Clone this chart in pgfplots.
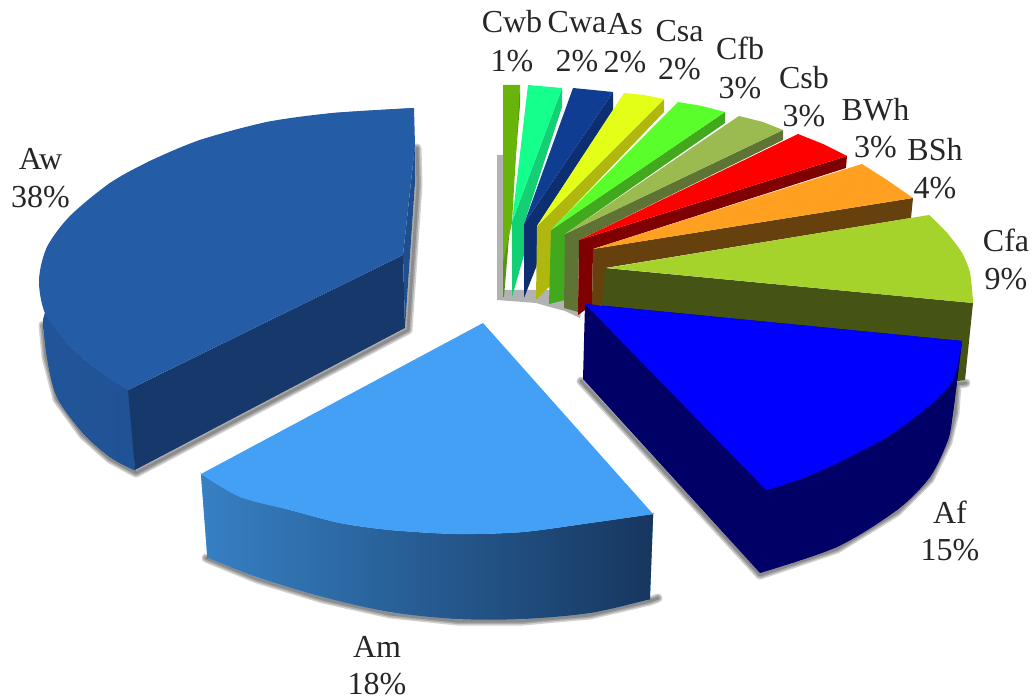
\documentclass[border=0pt]{standalone}
\usepackage{fontspec}
\setmainfont{Liberation Serif}
\usepackage{pgfplots}
\usepackage{pgfplotstable}
\pgfplotsset{compat=1.18}
\definecolor{awtop}{HTML}{245CA6}
\definecolor{awfront}{HTML}{17386B}
\definecolor{amtop}{HTML}{44A0F5}
\definecolor{aftop}{HTML}{0000FF}
\definecolor{afside}{HTML}{000066}
\definecolor{cfatop}{HTML}{A6D32B}
\definecolor{cfaside}{HTML}{455314}
\definecolor{bshtop}{HTML}{FFA020}
\definecolor{bshside}{HTML}{66400D}
\definecolor{bwhtop}{HTML}{FF0000}
\definecolor{bwhside}{HTML}{7F0000}
\definecolor{csbtop}{HTML}{9BBB50}
\definecolor{csbside}{HTML}{5F7434}
\definecolor{cfbtop}{HTML}{5AFF2B}
\definecolor{cfbside}{HTML}{42A81E}
\definecolor{csatop}{HTML}{E3FF18}
\definecolor{csaside}{HTML}{B0B80F}
\definecolor{astop}{HTML}{0F3D92}
\definecolor{asside}{HTML}{0D2F72}
\definecolor{cwatop}{HTML}{14FF8C}
\definecolor{cwaside}{HTML}{12D073}
\definecolor{cwbtop}{HTML}{68B40A}
\definecolor{cwbside}{HTML}{57950A}
\pgfplotsset{
    face/.style={draw=none,forget plot,fill=#1},
    round/.style={draw=none,forget plot,fill=#1,smooth},
    blur/.style={draw=black,no marks,forget plot,opacity=0.18,line width=#1,line cap=round,line join=round},
}
% edges that throw a shadow
\pgfplotstableread{
x y
417 148
418 185
408 330
136 473
110 459
83 435
57 399
46 357
43 325
}\shadowaw
\pgfplotstableread{
x y
206 558
257 579
323 599
390 614
457 621
523 621
590 615
650 601
658 598
}\shadowam
\pgfplotstableread{
x y
581 381
760 575
837 549
897 512
930 479
948 442
955 413
957 384
966 383
}\shadowaf
\newcommand{\lab}[5]{%
  \node[anchor=base] at (axis cs:#1,#2) {#4};
  \node[anchor=base] at (axis cs:#1,#3) {#5};
}
\begin{document}
\begin{tikzpicture}
\useasboundingbox (0,0) rectangle (1033pt,700pt);
\begin{axis}[
    scale only axis,
    width=1033pt, height=700pt,
    xmin=0, xmax=1033, ymin=0, ymax=700,
    y dir=reverse,
    hide axis,
    clip=false,
    nodes={font=\fontsize{32}{38}\selectfont, text=black!85},
]
% soft shadows
\addplot[face=black, opacity=0.3] coordinates {(497,155) (503,155) (503,290) (585,290) (580,318) (565,311) (550,307) (536,303) (497,300)};
\pgfplotsinvokeforeach{3pt,6pt,9pt}{
  \addplot[blur=#1] table {\shadowaw};
  \addplot[blur=#1] table {\shadowam};
  \addplot[blur=#1] table {\shadowaf};
}

% Aw
\addplot[round=awfront, left color=awtop!92!black, right color=awtop!72!awfront] coordinates {(43,320) (47,357) (57,397) (83,433) (110,457) (132,469) (135,470) (135,470) (135,470) (134.7,466) (128,390) (97,370) (67,343) (45,313)};
\addplot[face=awfront] coordinates {(128,390) (403,255) (405,328) (135,470)};
\addplot[face=awtop!85!black] coordinates {(415,145) (415,183) (405,328) (403,255)};
\addplot[face=awtop] coordinates {(414,108) (333,113) (267,122) (200,140) (150,161) (110,183) (70,216) (47,247) (39,280) (45,313) (67,343) (97,370) (128,390) (403,255) (415,145)};
\addplot[round=awtop] coordinates {(414,108) (333,113) (267,122) (200,140) (150,161) (110,183) (70,216) (47,247) (39,280) (45,313) (67,343) (97,370) (128,390)};

% Am
\addplot[round=amtop, left color=amtop!80!black, right color=awfront!80!amtop!70!black] coordinates {(205,476) (201,474) (201,474) (201,474) (201.3,478) (207,553) (207,557) (207,557) (207,557) (211,559) (257,577) (323,597) (390,612) (457,619) (523,619) (590,613) (647,600) (650,599) (650,599) (650,599) (650.1,595) (653,518) (653,514) (653,514) (653,514) (649,514.6) (590,523) (523,532) (457,534) (390,530) (340,523) (290,510) (240,497)};
\addplot[face=amtop] coordinates {(483,323) (201,474) (240,497) (290,510) (340,523) (390,530) (457,534) (523,532) (590,523) (653,514)};
\addplot[round=amtop] coordinates {(201,474) (240,497) (290,510) (340,523) (390,530) (457,534) (523,532) (590,523) (653,514)};

% small sectors, back to front
\addplot[face=cwbside] coordinates {(520,85) (520,105) (504,297) (503,297) (503,262)};
\addplot[face=cwbtop] coordinates {(503,85) (520,85) (512,223) (503,262)};
\addplot[face=cwaside] coordinates {(512,222) (562,88) (562,107) (524,224) (524,255) (512,297)};
\addplot[face=cwatop] coordinates {(528,85) (562,88) (512,222)};
\addplot[face=asside] coordinates {(524,224) (613,92) (613,110) (537,226) (537,265) (524,298)};
\addplot[face=astop] coordinates {(573,88) (613,92) (524,224)};
\addplot[face=csaside] coordinates {(537,226) (664,99) (664,112) (551,230) (551,285) (536,300)};
\addplot[face=csatop] coordinates {(624,93) (644,95) (664,99) (537,226)};
\addplot[face=cfbside] coordinates {(551,230) (725,112) (725,123) (565,234) (565,300) (549,304)};
\addplot[face=cfbtop] coordinates {(678,102) (702,106) (725,112) (551,230)};
\addplot[face=csbside] coordinates {(565,234) (783,130) (783,140) (579,240) (578,312) (564,308)};
\addplot[face=csbtop] coordinates {(739,116) (763,122) (783,130) (565,234)};
\addplot[face=bwhside] coordinates {(579,240) (847,156) (846,168) (593,249) (592,305) (578,315)};
\addplot[face=bwhtop] coordinates {(798,134) (823,144) (847,156) (579,240)};
\addplot[face=bshside] coordinates {(593,249) (913,198) (911,218) (605,268) (605,305) (592,305)};
\addplot[face=bshtop] coordinates {(862,164) (887,180) (913,198) (593,249)};
\addplot[face=cfaside] coordinates {(605,268) (973,303) (965,380) (958,381) (600,320)};
\addplot[face=cfatop] coordinates {(607,268) (929,215) (947,233) (962,253) (970,273) (973,303)};
\addplot[round=cfatop] coordinates {(929,215) (947,233) (962,253) (970,273) (973,303)};

% Af
\addplot[face=afside] coordinates {(585,304) (962,341) (953,413) (948,440) (930,477) (897,510) (837,547) (760,573) (583,379)};
\addplot[round=afside] coordinates {(962,341) (953,413) (948,440) (930,477) (897,510) (837,547) (760,573)};
\addplot[face=aftop] coordinates {(585,304) (962,341) (953,380) (930,405) (887,437) (837,463) (803,478) (766,490)};
\addplot[round=aftop] coordinates {(962,341) (953,380) (930,405) (887,437) (837,463) (803,478) (766,490)};

% labels: x, two baselines, two lines
\lab{40.5}{170}{208}{Aw}{38\%}
\lab{377}{657}{694}{Am}{18\%}
\lab{950}{523}{560}{Af}{15\%}
\lab{1006}{252}{290}{Cfa}{9\%}
\lab{935}{161}{199}{BSh}{4\%}
\lab{875.5}{121}{158}{BWh}{3\%}
\lab{804}{89}{127}{Csb}{3\%}
\lab{740}{60}{99}{Cfb}{3\%}
\lab{679.5}{42}{80}{Csa}{2\%}
\lab{625}{35}{73}{As}{2\%}
\lab{577}{33}{72}{Cwa}{2\%}
\lab{512}{33}{72}{Cwb}{1\%}
\end{axis}
\end{tikzpicture}
\end{document}
